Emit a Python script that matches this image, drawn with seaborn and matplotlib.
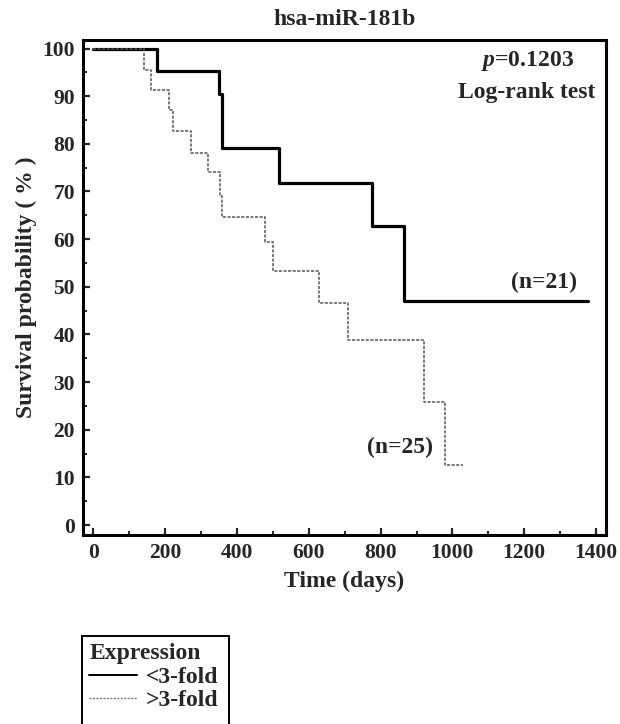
import matplotlib
matplotlib.use("Agg")
import matplotlib.pyplot as plt
import seaborn as sns
import pandas as pd
from matplotlib.ticker import MultipleLocator
from matplotlib.lines import Line2D
from matplotlib.patches import Rectangle

# ---- data ----
low_time = [0, 177, 350, 358, 517, 775, 865, 1378]
low_surv = [100, 95.2, 90.5, 79.2, 71.8, 62.8, 47.1, 47.1]
high_time = [0, 141, 160, 211, 223, 271, 320, 353, 359, 478, 500, 628, 709, 921, 979, 1030]
high_surv = [100, 95.4, 91.2, 87.0, 82.6, 78.1, 74.1, 69.1, 64.6, 59.4, 53.3, 46.5, 38.8, 25.9, 12.6, 12.6]
group_labels = ["<3-fold", ">3-fold"]
n_labels = ["(n=21)", "(n=25)"]
title = "hsa-miR-181b"
x_ticks = [0, 200, 400, 600, 800, 1000, 1200, 1400]
y_ticks = [0, 10, 20, 30, 40, 50, 60, 70, 80, 90, 100]

sns.set_theme(style="ticks")
plt.rcParams["font.family"] = ["Liberation Serif", "DejaVu Serif"]
plt.rcParams["font.weight"] = "bold"
plt.rcParams["mathtext.fontset"] = "custom"
plt.rcParams["mathtext.it"] = "Liberation Serif:italic:bold"
plt.rcParams["mathtext.rm"] = "Liberation Serif:bold"

FS = 17
fig = plt.figure(figsize=(6.2, 7.24), dpi=100)
ax = fig.add_axes([0.1344, 0.261, 0.8426, 0.6838])

df_low = pd.DataFrame({"time": low_time, "surv": low_surv})
df_high = pd.DataFrame({"time": high_time, "surv": high_surv})

sns.lineplot(data=df_low, x="time", y="surv", ax=ax, drawstyle="steps-post",
             estimator=None, sort=False, color="black", linewidth=2.3)
sns.lineplot(data=df_high, x="time", y="surv", ax=ax, drawstyle="steps-post",
             estimator=None, sort=False, color="#555555", linewidth=1.1,
             linestyle=(0, (2, 1)))

ax.set_xlim(-28, 1427)
ax.set_ylim(-2.1, 101.8)
ax.set_xticks(x_ticks)
ax.set_yticks(y_ticks)
ax.xaxis.set_minor_locator(MultipleLocator(100))
ax.yaxis.set_minor_locator(MultipleLocator(5))
ax.tick_params(axis="both", which="major", direction="in", length=5, width=1.6,
               labelsize=15.5, pad=6)
ax.tick_params(axis="both", which="minor", direction="in", length=3, width=1.4)
for lab in ax.get_xticklabels() + ax.get_yticklabels():
    lab.set_fontweight("bold")
for s in ax.spines.values():
    s.set_linewidth(2.2)
    s.set_color("black")

ax.set_xlabel("Time (days)", fontsize=FS, fontweight="bold", labelpad=5)
ax.set_ylabel("Survival probability ( % )", fontsize=FS, fontweight="bold", labelpad=4)
ax.set_title(title, fontsize=FS, fontweight="bold", pad=11)

ax.text(1208, 97.3, "$p$=0.1203", ha="center", va="center", fontsize=FS, fontweight="bold")
ax.text(1208, 90.7, "Log-rank test", ha="center", va="center", fontsize=FS, fontweight="bold")
ax.text(1256, 51.0, n_labels[0], ha="center", va="center", fontsize=FS, fontweight="bold")
ax.text(853, 16.2, n_labels[1], ha="center", va="center", fontsize=FS, fontweight="bold")

# legend box (its bottom runs past the figure edge, as in the reference)
fig.patches.append(Rectangle((82 / 620, -0.02), (229 - 82) / 620, 0.02 + 1 - 636 / 724,
                             transform=fig.transFigure, fill=False,
                             edgecolor="black", linewidth=1.4))
handles = [Line2D([0], [0], color="black", linewidth=1.4),
           Line2D([0], [0], color="#777777", linewidth=1.0, linestyle=(0, (1.5, 1)))]
leg = fig.legend(handles, group_labels, title="Expression", loc="upper left",
                 bbox_to_anchor=(87 / 620, 1 - 641 / 724), frameon=False,
                 fontsize=FS, title_fontproperties={"size": FS, "weight": "bold"},
                 handlelength=2.0, handletextpad=0.4, borderpad=0.1,
                 labelspacing=0.08, borderaxespad=0)
leg._legend_box.align = "left"
for t in leg.get_texts():
    t.set_fontweight("bold")

fig.savefig("out.png", dpi=100)
